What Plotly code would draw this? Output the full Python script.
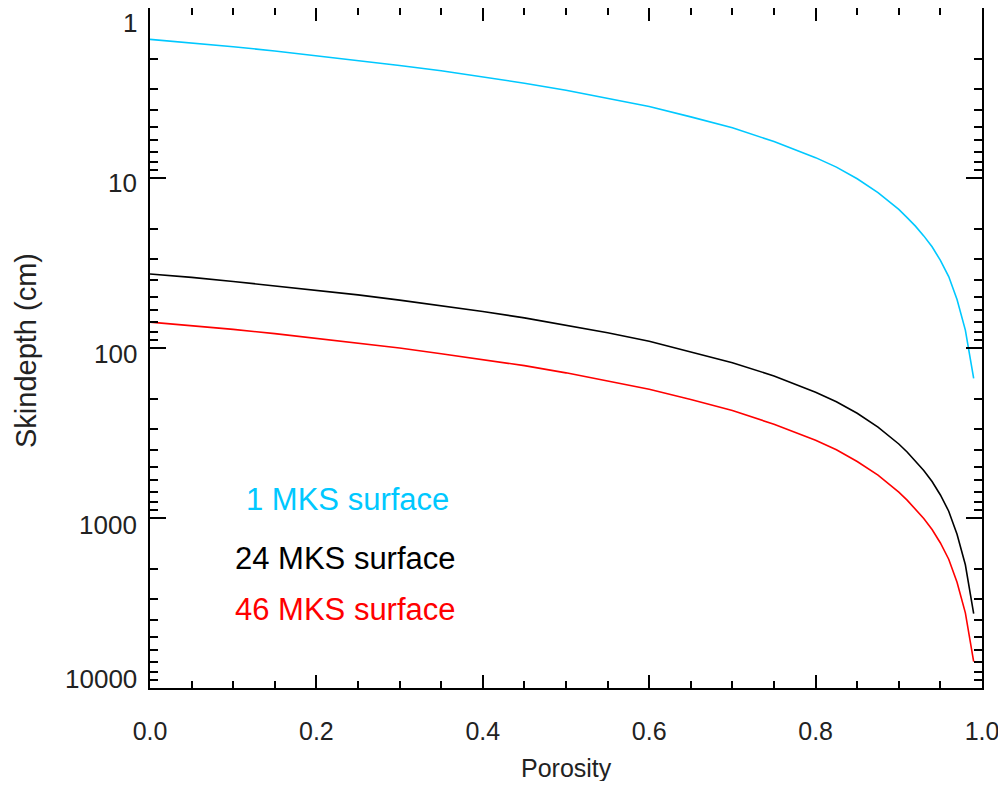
import math
import plotly.graph_objects as go

# ---- data ----
porosity = [0.0, 0.05, 0.1, 0.15, 0.2, 0.25, 0.3, 0.35, 0.4, 0.45, 0.5,
            0.55, 0.6, 0.65, 0.7, 0.75, 0.8, 0.825, 0.85, 0.875, 0.9, 0.91,
            0.92, 0.93, 0.94, 0.95, 0.96, 0.97, 0.98, 0.99]
skin_1mks = [1.53, 1.60, 1.69, 1.79, 1.91, 2.03, 2.18, 2.34, 2.54, 2.77, 3.05,
             3.39, 3.80, 4.37, 5.07, 6.10, 7.59, 8.63, 10.1, 12.2, 15.3, 17.1,
             19.2, 21.9, 25.4, 30.5, 38.0, 51.9, 78.5, 151]
skin_24mks = [36.7, 38.4, 40.6, 43.0, 45.8, 48.7, 52.3, 56.2, 61.0, 66.5, 73.2,
              81.4, 91.2, 105, 122, 146, 182, 207, 242, 292, 367, 409,
              461, 525, 610, 732, 912, 1246, 1884, 3650]
skin_46mks = [70.4, 73.6, 77.7, 82.3, 87.9, 93.4, 100, 108, 117, 127, 140,
              156, 175, 201, 233, 281, 349, 397, 465, 560, 704, 785,
              883, 1006, 1168, 1403, 1748, 2387, 3611, 7000]

series_names = ["1 MKS surface", "24 MKS surface", "46 MKS surface"]
series_colors = ["#00C8FF", "#000000", "#FF0000"]

y_tick_vals = [1, 10, 100, 1000, 10000]
y_tick_text = ["1", "10", "100", "1000", "10000"]
x_tick_vals = [0.0, 0.2, 0.4, 0.6, 0.8, 1.0]
x_tick_text = ["0.0", "0.2", "0.4", "0.6", "0.8", "1.0"]

FONT = "Liberation Sans, Arial, Helvetica, sans-serif"
TXT = "#222222"

fig = go.Figure()
for name, ys, col in zip(series_names, [skin_1mks, skin_24mks, skin_46mks], series_colors):
    fig.add_trace(go.Scatter(x=porosity, y=ys, mode="lines", name=name,
                             line=dict(color=col, width=1.6), showlegend=False))

# page body has an 8px margin; figure sized so the plot area lands where the reference's does
fig.update_layout(
    width=990, height=773,
    margin=dict(l=142, r=16, t=0, b=93),
    paper_bgcolor="white", plot_bgcolor="white",
    font=dict(family=FONT, color=TXT),
)

fig.update_xaxes(
    range=[0, 1], tickvals=x_tick_vals, ticktext=x_tick_text,
    showgrid=False, zeroline=False,
    showline=True, linecolor="black", linewidth=2, mirror="allticks",
    ticks="inside", ticklen=13, tickwidth=1.5, tickcolor="black",
    minor=dict(dtick=0.05, ticks="inside", ticklen=7, tickwidth=1.5,
               tickcolor="black", showgrid=False),
    tickfont=dict(size=25, family=FONT, color=TXT),
    ticklabelstandoff=20, ticklabeloverflow="allow",
    automargin=False,
)

fig.update_yaxes(
    type="log", range=[4, 0], tickvals=y_tick_vals,
    showticklabels=False,
    showgrid=False, zeroline=False,
    showline=True, linecolor="black", linewidth=2, mirror="allticks",
    ticks="inside", ticklen=16, tickwidth=1.5, tickcolor="black",
    minor=dict(dtick="D1", ticks="inside", ticklen=8, tickwidth=1.5,
               tickcolor="black", showgrid=False),
    automargin=False,
)

# y tick labels (IDL style offsets)
label_shift = [-15, -5, -6, -7, 9]
for v, t, s in zip(y_tick_vals, y_tick_text, label_shift):
    fig.add_annotation(x=0, xref="paper", y=math.log10(v), yref="y",
                       text=t, showarrow=False, xanchor="right", yanchor="middle",
                       xshift=-11, yshift=s,
                       font=dict(size=26, family=FONT, color=TXT))

# axis titles
fig.add_annotation(x=0.5, xref="paper", y=0, yref="paper", text="Porosity",
                   showarrow=False, xanchor="center", yanchor="middle",
                   yshift=-80,
                   font=dict(size=25, family=FONT, color=TXT))
fig.add_annotation(x=0, xref="paper", y=0.5, yref="paper", text="Skindepth (cm)",
                   textangle=-90, showarrow=False, xanchor="center", yanchor="middle",
                   xshift=-124, yshift=-3,
                   font=dict(size=29, family=FONT, color=TXT))

# in-plot labels
label_pos_x = [0.113, 0.0996, 0.0996]
label_pos_y = [2.894, 3.241, 3.541]
for name, col, lx, ly in zip(series_names, series_colors, label_pos_x, label_pos_y):
    fig.add_annotation(x=lx, xref="x", y=ly, yref="y", text=name, showarrow=False,
                       xanchor="left", yanchor="middle",
                       font=dict(size=31, family=FONT, color=col))

fig.write_html("out.html")
